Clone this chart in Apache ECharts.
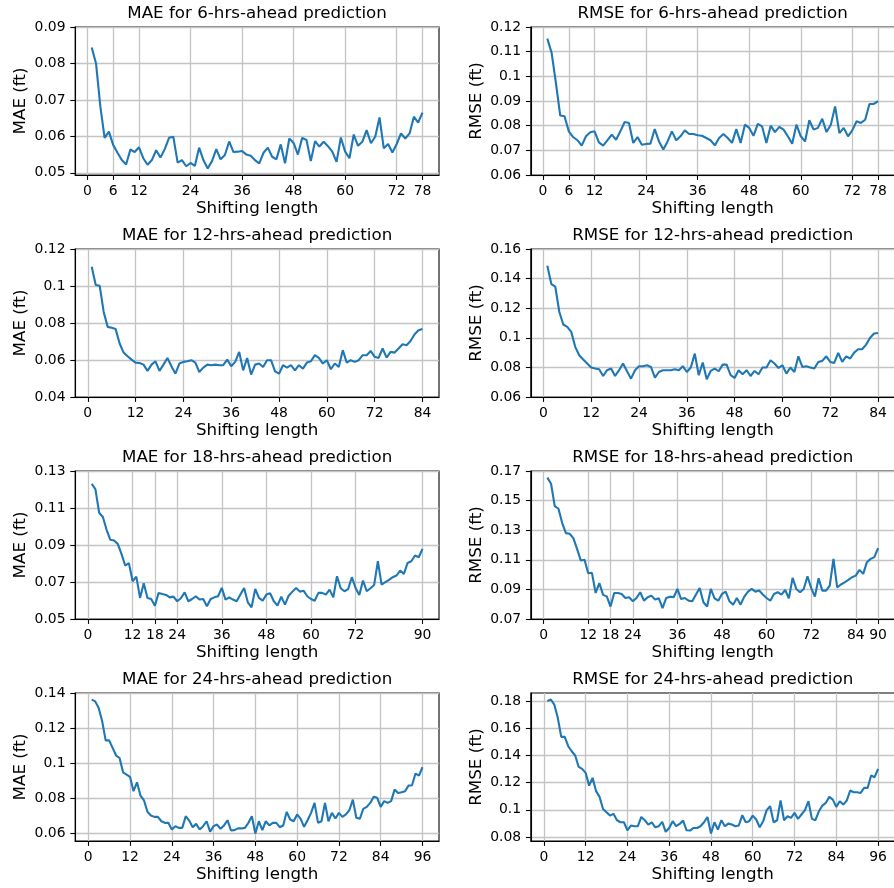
<!DOCTYPE html>
<html>
<head>
<meta charset="utf-8">
<script src="https://cdn.jsdelivr.net/npm/echarts@6.0.0/dist/echarts.min.js"></script>
<style>
  html, body { margin: 0; padding: 0; background: #fff; }
  #chart { width: 894px; height: 888px; }
</style>
</head>
<body>
<div id="chart"></div>
<script>
// values per shifting length 1..N
const mae6 = [0.0844, 0.0800, 0.0682, 0.0596, 0.0613, 0.0576, 0.0555, 0.0535, 0.0523, 0.0564,
  0.0557, 0.0570, 0.0540, 0.0522, 0.0535, 0.0562, 0.0542, 0.0565, 0.0596, 0.0599,
  0.0528, 0.0535, 0.0518, 0.0527, 0.0519, 0.0569, 0.0535, 0.0512, 0.0532, 0.0565,
  0.0537, 0.0549, 0.0586, 0.0557, 0.0558, 0.0560, 0.0550, 0.0547, 0.0535, 0.0526,
  0.0555, 0.0569, 0.0544, 0.0537, 0.0578, 0.0526, 0.0594, 0.0582, 0.0550, 0.0596,
  0.0590, 0.0532, 0.0587, 0.0572, 0.0585, 0.0573, 0.0558, 0.0530, 0.0597, 0.0558,
  0.0540, 0.0605, 0.0574, 0.0585, 0.0617, 0.0581, 0.0599, 0.0652, 0.0567, 0.0579,
  0.0556, 0.0579, 0.0608, 0.0594, 0.0608, 0.0654, 0.0638, 0.0665];
const rmse6 = [0.1153, 0.1095, 0.0973, 0.0841, 0.0838, 0.0777, 0.0754, 0.0741, 0.0719, 0.0757,
  0.0773, 0.0777, 0.0732, 0.0719, 0.0741, 0.0764, 0.0743, 0.0777, 0.0815, 0.0811,
  0.0730, 0.0754, 0.0723, 0.0726, 0.0727, 0.0786, 0.0736, 0.0703, 0.0736, 0.0777,
  0.0741, 0.0757, 0.0781, 0.0766, 0.0766, 0.0761, 0.0759, 0.0750, 0.0741, 0.0720,
  0.0750, 0.0766, 0.0750, 0.0730, 0.0786, 0.0730, 0.0804, 0.0791, 0.0759, 0.0807,
  0.0797, 0.0730, 0.0800, 0.0774, 0.0795, 0.0784, 0.0757, 0.0727, 0.0804, 0.0757,
  0.0736, 0.0822, 0.0784, 0.0791, 0.0828, 0.0774, 0.0804, 0.0878, 0.0770, 0.0791,
  0.0757, 0.0781, 0.0818, 0.0811, 0.0824, 0.0888, 0.0888, 0.0899];
const mae12 = [0.1104, 0.1005, 0.1001, 0.0860, 0.0779, 0.0774, 0.0767, 0.0689, 0.0640, 0.0620,
  0.0602, 0.0586, 0.0584, 0.0575, 0.0541, 0.0575, 0.0593, 0.0541, 0.0575, 0.0611,
  0.0566, 0.0526, 0.0581, 0.0590, 0.0593, 0.0599, 0.0586, 0.0535, 0.0559, 0.0575,
  0.0572, 0.0575, 0.0572, 0.0572, 0.0602, 0.0566, 0.0590, 0.0644, 0.0544, 0.0611,
  0.0521, 0.0575, 0.0581, 0.0562, 0.0599, 0.0599, 0.0539, 0.0526, 0.0572, 0.0559,
  0.0572, 0.0544, 0.0572, 0.0553, 0.0586, 0.0593, 0.0626, 0.0611, 0.0581, 0.0599,
  0.0550, 0.0581, 0.0562, 0.0653, 0.0586, 0.0599, 0.0590, 0.0599, 0.0626, 0.0626,
  0.0649, 0.0617, 0.0611, 0.0662, 0.0613, 0.0644, 0.0640, 0.0662, 0.0685, 0.0680,
  0.0703, 0.0738, 0.0761, 0.0767];
const rmse12 = [0.1487, 0.1363, 0.1345, 0.1176, 0.1090, 0.1074, 0.1040, 0.0939, 0.0882, 0.0853,
  0.0826, 0.0799, 0.0792, 0.0787, 0.0742, 0.0781, 0.0792, 0.0742, 0.0781, 0.0826,
  0.0774, 0.0724, 0.0781, 0.0808, 0.0808, 0.0814, 0.0803, 0.0731, 0.0769, 0.0781,
  0.0781, 0.0781, 0.0787, 0.0781, 0.0808, 0.0769, 0.0799, 0.0893, 0.0747, 0.0833,
  0.0720, 0.0776, 0.0792, 0.0774, 0.0819, 0.0819, 0.0747, 0.0729, 0.0781, 0.0754,
  0.0781, 0.0742, 0.0776, 0.0754, 0.0799, 0.0799, 0.0848, 0.0826, 0.0796, 0.0814,
  0.0758, 0.0799, 0.0769, 0.0875, 0.0803, 0.0808, 0.0799, 0.0792, 0.0837, 0.0844,
  0.0875, 0.0837, 0.0830, 0.0898, 0.0837, 0.0875, 0.0860, 0.0900, 0.0923, 0.0923,
  0.0954, 0.1000, 0.1029, 0.1033];
const mae18 = [0.1231, 0.1201, 0.1074, 0.1051, 0.0982, 0.0928, 0.0924, 0.0906, 0.0852, 0.0789,
  0.0802, 0.0704, 0.0729, 0.0614, 0.0693, 0.0614, 0.0608, 0.0572, 0.0641, 0.0635,
  0.0630, 0.0617, 0.0621, 0.0596, 0.0612, 0.0644, 0.0596, 0.0608, 0.0623, 0.0605,
  0.0608, 0.0569, 0.0608, 0.0617, 0.0623, 0.0668, 0.0605, 0.0617, 0.0605, 0.0596,
  0.0632, 0.0668, 0.0590, 0.0563, 0.0662, 0.0614, 0.0599, 0.0632, 0.0639, 0.0596,
  0.0572, 0.0621, 0.0578, 0.0626, 0.0648, 0.0668, 0.0648, 0.0653, 0.0623, 0.0608,
  0.0599, 0.0641, 0.0641, 0.0632, 0.0659, 0.0617, 0.0731, 0.0666, 0.0650, 0.0662,
  0.0726, 0.0668, 0.0630, 0.0708, 0.0650, 0.0666, 0.0684, 0.0812, 0.0686, 0.0699,
  0.0711, 0.0726, 0.0735, 0.0762, 0.0744, 0.0803, 0.0812, 0.0843, 0.0834, 0.0879];
const rmse18 = [0.1655, 0.1614, 0.1463, 0.1445, 0.1348, 0.1280, 0.1276, 0.1246, 0.1174, 0.1095,
  0.1100, 0.1009, 0.1012, 0.0876, 0.0942, 0.0863, 0.0853, 0.0784, 0.0876, 0.0876,
  0.0869, 0.0842, 0.0847, 0.0820, 0.0842, 0.0881, 0.0824, 0.0847, 0.0858, 0.0831,
  0.0840, 0.0774, 0.0842, 0.0851, 0.0847, 0.0903, 0.0835, 0.0842, 0.0824, 0.0820,
  0.0865, 0.0910, 0.0813, 0.0784, 0.0903, 0.0840, 0.0824, 0.0869, 0.0885, 0.0820,
  0.0797, 0.0842, 0.0797, 0.0851, 0.0885, 0.0903, 0.0885, 0.0892, 0.0865, 0.0842,
  0.0824, 0.0869, 0.0881, 0.0865, 0.0896, 0.0840, 0.0978, 0.0903, 0.0881, 0.0903,
  0.0989, 0.0910, 0.0851, 0.0975, 0.0892, 0.0892, 0.0926, 0.1106, 0.0914, 0.0933,
  0.0948, 0.0964, 0.0982, 0.0993, 0.1032, 0.1005, 0.1084, 0.1106, 0.1118, 0.1179];
const mae24 = [0.1366, 0.1356, 0.1318, 0.1242, 0.1133, 0.1133, 0.1090, 0.1046, 0.1032, 0.0950,
  0.0937, 0.0924, 0.0842, 0.0893, 0.0817, 0.0790, 0.0724, 0.0703, 0.0695, 0.0695,
  0.0670, 0.0661, 0.0661, 0.0623, 0.0642, 0.0632, 0.0632, 0.0699, 0.0674, 0.0636,
  0.0655, 0.0623, 0.0642, 0.0670, 0.0610, 0.0642, 0.0651, 0.0627, 0.0646, 0.0676,
  0.0617, 0.0619, 0.0629, 0.0629, 0.0632, 0.0661, 0.0699, 0.0600, 0.0670, 0.0619,
  0.0670, 0.0646, 0.0661, 0.0661, 0.0636, 0.0646, 0.0724, 0.0680, 0.0670, 0.0709,
  0.0684, 0.0638, 0.0676, 0.0718, 0.0775, 0.0661, 0.0670, 0.0775, 0.0670, 0.0718,
  0.0686, 0.0718, 0.0695, 0.0709, 0.0733, 0.0794, 0.0690, 0.0684, 0.0741, 0.0752,
  0.0775, 0.0810, 0.0804, 0.0752, 0.0785, 0.0775, 0.0785, 0.0851, 0.0832, 0.0836,
  0.0842, 0.0874, 0.0876, 0.0943, 0.0931, 0.0979];
const rmse24 = [0.1800, 0.1812, 0.1775, 0.1677, 0.1537, 0.1537, 0.1468, 0.1431, 0.1400, 0.1316,
  0.1301, 0.1272, 0.1178, 0.1235, 0.1137, 0.1095, 0.1006, 0.0982, 0.0957, 0.0970,
  0.0923, 0.0908, 0.0908, 0.0849, 0.0884, 0.0879, 0.0879, 0.0947, 0.0923, 0.0891,
  0.0908, 0.0871, 0.0879, 0.0911, 0.0837, 0.0866, 0.0916, 0.0879, 0.0896, 0.0920,
  0.0849, 0.0847, 0.0866, 0.0866, 0.0879, 0.0908, 0.0947, 0.0825, 0.0908, 0.0854,
  0.0923, 0.0879, 0.0898, 0.0891, 0.0879, 0.0884, 0.0960, 0.0908, 0.0916, 0.0957,
  0.0928, 0.0871, 0.0916, 0.0997, 0.1026, 0.0908, 0.0923, 0.1068, 0.0923, 0.0952,
  0.0940, 0.0977, 0.0933, 0.0965, 0.0997, 0.1063, 0.0933, 0.0923, 0.0989, 0.1031,
  0.1051, 0.1095, 0.1075, 0.1021, 0.1063, 0.1038, 0.1068, 0.1142, 0.1129, 0.1129,
  0.1124, 0.1161, 0.1161, 0.1252, 0.1240, 0.1301];

// tick labels
const xTicks6 = [0, 6, 12, 24, 36, 48, 60, 72, 78];
const xTicks12 = [0, 12, 24, 36, 48, 60, 72, 84];
const xTicksMae18 = [0, 12, 18, 24, 36, 48, 60, 72, 90];
const xTicksRmse18 = [0, 12, 18, 24, 36, 48, 60, 72, 84, 90];
const xTicks24 = [0, 12, 24, 36, 48, 60, 72, 84, 96];
const yTicksMae6 = [0.05, 0.06, 0.07, 0.08, 0.09];
const yTicksRmse6 = [0.06, 0.07, 0.08, 0.09, 0.1, 0.11, 0.12];
const yTicksMae12 = [0.04, 0.06, 0.08, 0.1, 0.12];
const yTicksRmse12 = [0.06, 0.08, 0.1, 0.12, 0.14, 0.16];
const yTicksMae18 = [0.05, 0.07, 0.09, 0.11, 0.13];
const yTicksRmse18 = [0.07, 0.09, 0.11, 0.13, 0.15, 0.17];
const yTicksMae24 = [0.06, 0.08, 0.1, 0.12, 0.14];
const yTicksRmse24 = [0.08, 0.1, 0.12, 0.14, 0.16, 0.18];

const panels = [
  { title: "MAE for 6-hrs-ahead prediction", yName: "MAE (ft)", data: mae6, xTicks: xTicks6, yTicks: yTicksMae6, yMin: 0.0494, yMax: 0.09 },
  { title: "RMSE for 6-hrs-ahead prediction", yName: "RMSE (ft)", data: rmse6, xTicks: xTicks6, yTicks: yTicksRmse6, yMin: 0.06, yMax: 0.12 },
  { title: "MAE for 12-hrs-ahead prediction", yName: "MAE (ft)", data: mae12, xTicks: xTicks12, yTicks: yTicksMae12, yMin: 0.04, yMax: 0.12 },
  { title: "RMSE for 12-hrs-ahead prediction", yName: "RMSE (ft)", data: rmse12, xTicks: xTicks12, yTicks: yTicksRmse12, yMin: 0.06, yMax: 0.16 },
  { title: "MAE for 18-hrs-ahead prediction", yName: "MAE (ft)", data: mae18, xTicks: xTicksMae18, yTicks: yTicksMae18, yMin: 0.05, yMax: 0.13 },
  { title: "RMSE for 18-hrs-ahead prediction", yName: "RMSE (ft)", data: rmse18, xTicks: xTicksRmse18, yTicks: yTicksRmse18, yMin: 0.07, yMax: 0.17 },
  { title: "MAE for 24-hrs-ahead prediction", yName: "MAE (ft)", data: mae24, xTicks: xTicks24, yTicks: yTicksMae24, yMin: 0.0557, yMax: 0.1404 },
  { title: "RMSE for 24-hrs-ahead prediction", yName: "RMSE (ft)", data: rmse24, xTicks: xTicks24, yTicks: yTicksRmse24, yMin: 0.077, yMax: 0.186 }
];

const FONT = "DejaVu Sans";
const rowTops = [27, 249, 471, 693];
const colLefts = [75.2, 530.8];
const plotW = 363.8, plotH = 148;

let chart = echarts.init(document.getElementById("chart"), null, { renderer: "canvas" });

let option = { animation: false, backgroundColor: "#fff", title: [], grid: [], xAxis: [], yAxis: [], series: [] };

panels.forEach((p, i) => {
  let r = Math.floor(i / 2), c = i % 2;
  let left = colLefts[c], top = rowTops[r];
  let n = p.data.length;
  let pad = 0.05 * (n - 1); // matplotlib default margins

  option.title.push({
    text: p.title,
    left: left + plotW / 2,
    top: top - 22,
    textAlign: "center",
    padding: 0,
    textStyle: { fontFamily: FONT, fontSize: 16.7, fontWeight: "normal", color: "#000" }
  });
  option.grid.push({
    left: left, top: top, width: plotW, height: plotH,
    show: true, borderColor: "#000", borderWidth: 1.1, backgroundColor: "transparent",
    containLabel: false, outerBoundsMode: "none"
  });
  option.xAxis.push({
    gridIndex: i, type: "value",
    min: 1 - pad, max: n + pad,
    name: "Shifting length", nameLocation: "middle", nameGap: 25,
    nameTextStyle: { fontFamily: FONT, fontSize: 16.7, color: "#000" },
    axisLine: { show: true, onZero: false, lineStyle: { color: "#000", width: 1.1 } },
    axisTick: { show: true, length: 4.9, customValues: p.xTicks, lineStyle: { color: "#000", width: 1.1 } },
    axisLabel: { customValues: p.xTicks, interval: 0, margin: 9.7, fontFamily: FONT, fontSize: 13.9, color: "#000" },
    splitLine: { show: true, lineStyle: { color: "#c4c4c4", width: 1.3 } }
  });
  option.yAxis.push({
    gridIndex: i, type: "value",
    min: p.yMin, max: p.yMax,
    name: p.yName, nameLocation: "middle", nameGap: 46,
    nameTextStyle: { fontFamily: FONT, fontSize: 16.7, color: "#000" },
    axisLine: { show: true, onZero: false, lineStyle: { color: "#000", width: 1.1 } },
    axisTick: { show: true, length: 4.9, customValues: p.yTicks, lineStyle: { color: "#000", width: 1.1 } },
    axisLabel: {
      customValues: p.yTicks, interval: 0, margin: 9.7, fontFamily: FONT, fontSize: 13.9, color: "#000",
      formatter: (v) => String(parseFloat(Number(v).toFixed(4)))
    },
    splitLine: { show: true, lineStyle: { color: "#c4c4c4", width: 1.3 } }
  });
  option.series.push({
    type: "line", xAxisIndex: i, yAxisIndex: i,
    data: p.data.map((v, k) => [k + 1, v]),
    showSymbol: false, symbol: "none",
    lineStyle: { color: "#1f77b4", width: 2.1 },
    clip: true
  });
});

chart.setOption(option);
</script>
</body>
</html>
